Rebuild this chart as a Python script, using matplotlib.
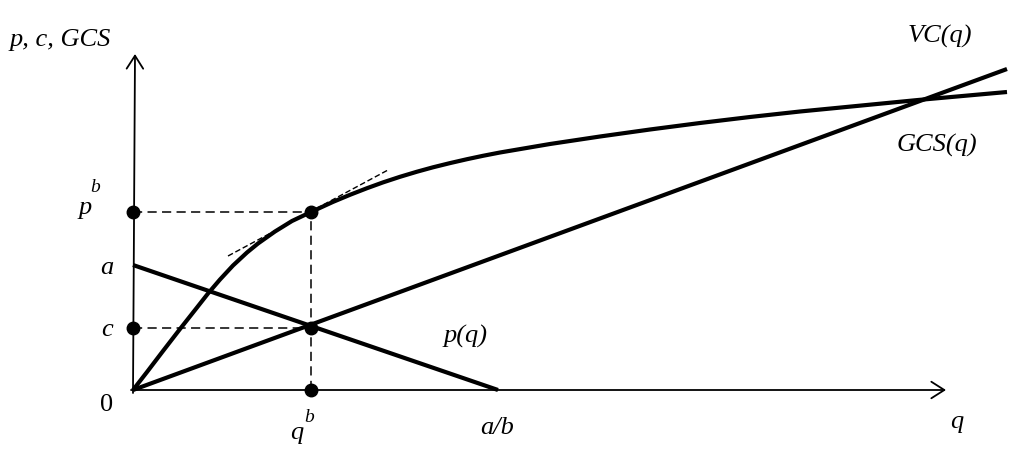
import numpy as np
import matplotlib.pyplot as plt

# data (q in units of 100 px from origin)
q_vc = [0, 0.14, 0.30, 0.47, 0.64, 0.75, 0.87, 1.00, 1.14, 1.25, 1.42, 1.59, 1.78,
        2.00, 2.17, 2.34, 2.50, 2.67, 2.84, 3.00, 3.17, 3.34, 3.50, 3.67,
        4.17, 4.67, 5.17, 5.67, 6.17, 6.67, 7.85, 8.74]
vc = [0, 0.18, 0.39, 0.61, 0.825, 0.965, 1.105, 1.245, 1.375, 1.465, 1.585, 1.69, 1.78,
      1.881, 1.952, 2.018, 2.076, 2.132, 2.183, 2.227, 2.269, 2.308, 2.342, 2.375,
      2.46, 2.535, 2.605, 2.67, 2.73, 2.785, 2.90, 2.98]

q_gcs = [0, 8.74]
gcs = [0, 3.21]

q_dem = [0, 3.65]
p_dem = [1.25, 0]

q_tan = [0.95, 2.55]
v_tan = [1.34, 2.20]

qb = 1.78
pb = 1.78
c = 0.62

fig = plt.figure(figsize=(10.24, 4.56), dpi=100)
ax = fig.add_axes([0, 0, 1, 1])
ax.set_xlim(-1.33, 8.91)
ax.set_ylim(-0.65, 3.91)
ax.axis('off')

# axes with arrows
arr = dict(arrowstyle='->,head_length=0.55,head_width=0.35', lw=1.3,
           color='black', mutation_scale=17, shrinkA=0, shrinkB=0)
ax.annotate('', xy=(8.13, 0), xytext=(-0.02, 0), arrowprops=arr)
ax.annotate('', xy=(0.02, 3.36), xytext=(0, -0.03), arrowprops=arr)

# curves
ax.plot(q_vc, vc, color='black', lw=3, solid_joinstyle='round', solid_capstyle='butt')
ax.plot(q_gcs, gcs, color='black', lw=3, solid_capstyle='butt')
ax.plot(q_dem, p_dem, color='black', lw=3, solid_capstyle='butt')
ax.plot(q_tan, v_tan, color='black', lw=1.0, ls=(0, (4, 2)))

# dashed guides
dash = dict(color='black', lw=1.1, ls=(0, (6, 3.5)))
ax.plot([0, qb], [pb, pb], **dash)
ax.plot([0, qb], [c, c], **dash)
ax.plot([qb, qb], [0, pb], **dash)

# dots
ax.plot([0, 0, qb, qb, qb], [pb, c, pb, c, 0], 'o', color='black', ms=9)

font = dict(family='Liberation Serif', style='italic', fontsize=19)
sup = dict(family='Liberation Serif', style='italic', fontsize=14)
ax.text(-1.23, 3.51, 'p, c, GCS', ha='left', va='center', **font)
ax.text(-0.48, 1.83, 'p', ha='center', va='center', **font)
ax.text(-0.38, 2.04, 'b', ha='center', va='center', **sup)
ax.text(-0.26, 1.23, 'a', ha='center', va='center', **font)
ax.text(-0.26, 0.61, 'c', ha='center', va='center', **font)
ax.text(-0.26, -0.14, '0', ha='center', va='center', family='Liberation Serif',
        fontsize=19)
ax.text(1.64, -0.42, 'q', ha='center', va='center', **font)
ax.text(1.76, -0.27, 'b', ha='center', va='center', **sup)
ax.text(3.64, -0.37, 'a/b', ha='center', va='center', **font)
ax.text(8.24, -0.31, 'q', ha='center', va='center', **font)
ax.text(3.33, 0.55, 'p(q)', ha='center', va='center', **font)
ax.text(8.07, 3.55, 'VC(q)', ha='center', va='center', **font)
ax.text(8.04, 2.46, 'GCS(q)', ha='center', va='center', **font)

plt.savefig('out.png', dpi=100)
plt.close()
